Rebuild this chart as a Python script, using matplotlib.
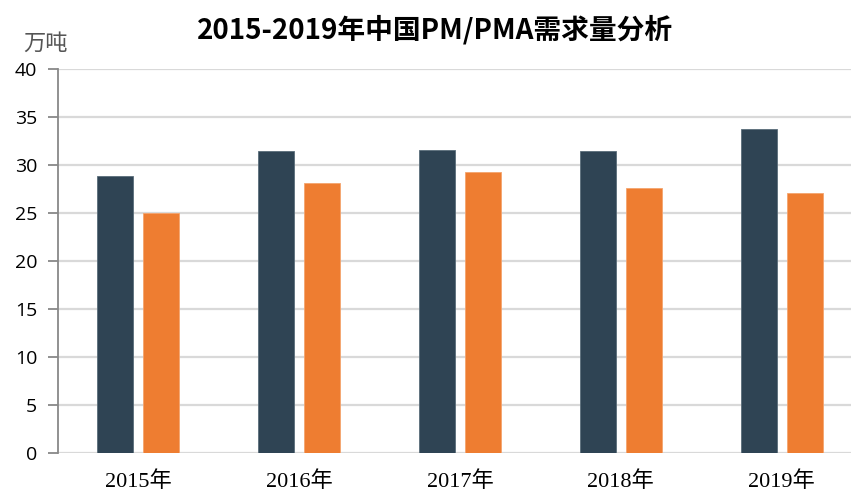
import matplotlib
matplotlib.use("Agg")
from matplotlib import pyplot as plt
import numpy as np

plt.rcParams['font.family'] = ['Noto Sans CJK SC', 'DejaVu Sans']

years = ["2015年", "2016年", "2017年", "2018年", "2019年"]
pm = [28.9, 31.5, 31.6, 31.5, 33.8]
pma = [25.0, 28.1, 29.3, 27.6, 27.1]

fig = plt.figure(figsize=(8.51, 4.95), dpi=100)
ax = fig.add_axes([58 / 851, 42 / 495, 804 / 851, 384 / 495])

x = np.arange(len(years))
w = 0.224
ax.bar(x - 0.143, pm, width=w, color='#2f4454', edgecolor='#5a6d7a', linewidth=0.6, zorder=3)
ax.bar(x + 0.143, pma, width=w, color='#ee7d31', edgecolor='#f4a46e', linewidth=0.6, zorder=3)

ax.set_xlim(-0.5, 4.5)
ax.set_ylim(0, 40)
ax.set_yticks(range(0, 41, 5))
ax.yaxis.grid(True, color='#d9d9d9', linewidth=1.6, zorder=0)
ax.set_axisbelow(True)

for s in ['top', 'right', 'bottom']:
    ax.spines[s].set_visible(False)
ax.spines['left'].set_color('#888888')
ax.spines['left'].set_linewidth(1.3)

ax.tick_params(axis='y', length=7, width=1.3, color='#888888', labelsize=14, pad=8)
ax.tick_params(axis='x', length=0, pad=13)
ax.set_xticks(x)
ax.set_xticklabels(years, fontsize=16, family=['Liberation Serif', 'Noto Sans CJK SC'])
for lab in ax.get_yticklabels():
    lab.set_family(['Open Sans', 'DejaVu Sans'])

fig.text(45 / 851, 1 - 43 / 495, "万吨", fontsize=16, color='#555555', ha='center', va='center')
fig.text(435 / 851, 1 - 30 / 495, "2015-2019年中国PM/PMA需求量分析", fontsize=20,
         fontweight='bold', ha='center', va='center')

fig.savefig("out.png", dpi=100)
